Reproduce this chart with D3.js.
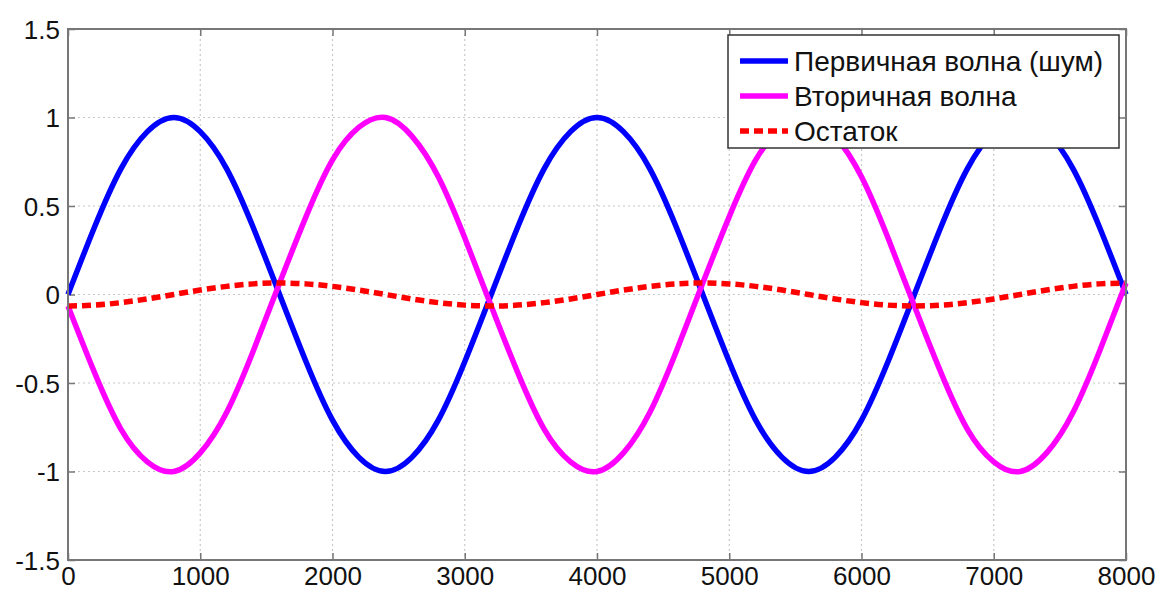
<!DOCTYPE html>
<html>
<head>
<meta charset="utf-8">
<script src="https://cdn.jsdelivr.net/npm/d3@7"></script>
<style>
  body { margin: 0; background: #fff; }
  svg { display: block; font-family: "Liberation Sans", Arial, sans-serif; }
  .grid line { stroke: #c8c8c8; stroke-dasharray: 2,3; stroke-width: 1.2; }
  .tick-lbl { font-size: 26px; fill: #111; }
  .leg-text { font-size: 28px; fill: #111; }
</style>
</head>
<body>
<svg id="plot" width="1161" height="593"></svg>
<script>
// sample positions (every 200)
var xs = [0,200,400,600,800,1000,1200,1400,1600,1800,2000,2200,2400,2600,2800,3000,
          3200,3400,3600,3800,4000,4200,4400,4600,4800,5000,5200,5400,5600,5800,6000,6200,
          6400,6600,6800,7000,7200,7400,7600,7800,8000];

var primary = [0,.38,.71,.92,1,.92,.71,.38,0,-.38,-.71,-.92,-1,-.92,-.71,-.38,
               0,.38,.71,.92,1,.92,.71,.38,0,-.38,-.71,-.92,-1,-.92,-.71,-.38,
               0,.38,.71,.92,1,.92,.71,.38,0];

var secondary = [-.065,-.44,-.76,-.945,-1,-.895,-.665,-.32,.065,.44,.76,.945,1,.895,.665,.32,
                 -.065,-.44,-.76,-.945,-1,-.895,-.665,-.32,.065,.44,.76,.945,1,.895,.665,.32,
                 -.065,-.44,-.76,-.945,-1,-.895,-.665,-.32,.065];

var residual = [-.065,-.06,-.046,-.025,0,.025,.046,.06,.065,.06,.046,.025,0,-.025,-.046,-.06,
                -.065,-.06,-.046,-.025,0,.025,.046,.06,.065,.06,.046,.025,0,-.025,-.046,-.06,
                -.065,-.06,-.046,-.025,0,.025,.046,.06,.065];

var xTicks = [0,1000,2000,3000,4000,5000,6000,7000,8000];
var yTicks = [-1.5,-1,-0.5,0,0.5,1,1.5];
var legendLabels = ["Первичная волна (шум)", "Вторичная волна", "Остаток"];
var colors = ["#0000ff", "#ff00ff", "#ff0000"];

var svg = d3.select("#plot"),
    margin = {top: 29, right: 35, bottom: 33, left: 68},
    width = 1161 - margin.left - margin.right,
    height = 593 - margin.top - margin.bottom,
    g = svg.append("g").attr("transform", "translate(" + margin.left + "," + margin.top + ")");

var x = d3.scaleLinear().domain([0, 8000]).range([0, width]);
var y = d3.scaleLinear().domain([-1.5, 1.5]).range([height, 0]);

// grid
g.append("g").attr("class", "grid")
  .selectAll("line").data(xTicks.slice(1, -1)).join("line")
  .attr("x1", d => x(d)).attr("x2", d => x(d))
  .attr("y1", 0).attr("y2", height);
g.append("g").attr("class", "grid")
  .selectAll("line").data(yTicks.slice(1, -1)).join("line")
  .attr("y1", d => y(d)).attr("y2", d => y(d))
  .attr("x1", 0).attr("x2", width);

// axes (ticks pointing inward, on all four sides)
var axCol = "#777";
function styleAxis(sel) {
  sel.select(".domain").remove();
  sel.selectAll(".tick line").attr("stroke", axCol).attr("stroke-width", 1.5);
  sel.selectAll(".tick text").attr("class", "tick-lbl")
    .attr("font-size", null).attr("font-family", null);
}
g.append("g").attr("transform", "translate(0," + height + ")")
  .call(d3.axisBottom(x).tickValues(xTicks).tickFormat(d => String(d)).tickSizeInner(-7))
  .call(styleAxis)
  .call(s => s.selectAll(".tick text").attr("y", 7).attr("dy", "0.71em"));
g.append("g")
  .call(d3.axisTop(x).tickValues(xTicks).tickSizeInner(-7).tickFormat(""))
  .call(styleAxis);
g.append("g")
  .call(d3.axisLeft(y).tickValues(yTicks).tickFormat(d => String(d)).tickSizeInner(-7))
  .call(styleAxis)
  .call(s => s.selectAll(".tick text").attr("x", -8).attr("dy", "0.36em"));
g.append("g").attr("transform", "translate(" + width + ",0)")
  .call(d3.axisRight(y).tickValues(yTicks).tickSizeInner(-7).tickFormat(""))
  .call(styleAxis);

// lines
var line = d3.line()
  .x((d, i) => x(xs[i]))
  .y(d => y(d))
  .curve(d3.curveNatural);

g.append("defs").append("clipPath").attr("id", "clip")
  .append("rect").attr("x", -4).attr("y", 0).attr("width", width + 8).attr("height", height);

var lines = g.append("g").attr("clip-path", "url(#clip)");
lines.append("path").datum(primary)
  .attr("fill", "none").attr("stroke", colors[0]).attr("stroke-width", 5.5).attr("d", line);
lines.append("path").datum(secondary)
  .attr("fill", "none").attr("stroke", colors[1]).attr("stroke-width", 5.5).attr("d", line);
lines.append("path").datum(residual)
  .attr("fill", "none").attr("stroke", colors[2]).attr("stroke-width", 5.5)
  .attr("stroke-dasharray", "9,5").attr("d", line);

// frame
g.append("rect").attr("width", width).attr("height", height)
  .attr("fill", "none").attr("stroke", axCol).attr("stroke-width", 2);

// legend
var leg = g.append("g").attr("transform", "translate(" + (728 - margin.left) + "," + (35 - margin.top) + ")");
leg.append("rect").attr("width", 391).attr("height", 113)
  .attr("fill", "#fff").attr("stroke", "#333").attr("stroke-width", 1.5);
legendLabels.forEach(function(lbl, i) {
  var cy = 26 + i * 35;
  leg.append("line").attr("x1", 12).attr("x2", 60).attr("y1", cy).attr("y2", cy)
    .attr("stroke", colors[i]).attr("stroke-width", 5.5)
    .attr("stroke-dasharray", i == 2 ? "9,5" : null);
  leg.append("text").attr("class", "leg-text").attr("x", 66).attr("y", cy).attr("dy", "0.36em").text(lbl);
});
</script>
</body>
</html>
